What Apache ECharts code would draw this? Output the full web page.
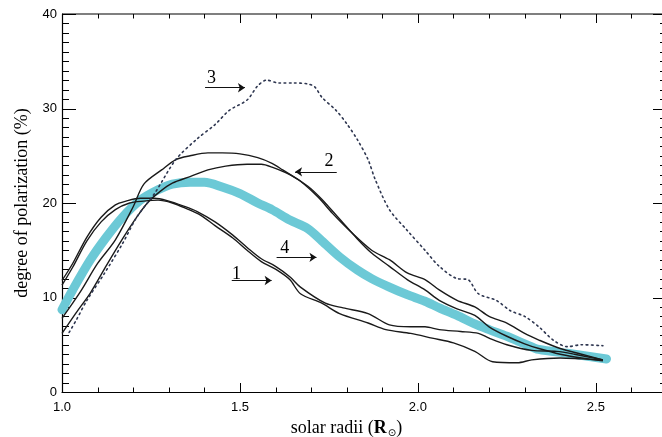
<!DOCTYPE html>
<html><head><meta charset="utf-8">
<script src="https://cdn.jsdelivr.net/npm/echarts@6/dist/echarts.min.js"></script>
<style>html,body{margin:0;padding:0;background:#fff}#c{width:662px;height:437px}</style>
</head><body><div id="c"></div><script>
// ---- data ----
const curve1aX = [1.0,1.03,1.07,1.11,1.15,1.18,1.22,1.26,1.30,1.34,1.38,1.43,1.48,1.52,1.56,1.60,1.64,1.67,1.74,1.79,1.86,1.92,1.98,2.02,2.06,2.12,2.17,2.20,2.25,2.32,2.39,2.44,2.52];
const curve1aY = [11.8,13.6,16.4,18.5,19.8,20.2,20.5,20.5,20.2,19.7,19.1,18.0,16.6,15.3,14.1,13.3,12.2,11.1,9.4,8.9,8.3,7.1,6.9,6.9,6.6,6.4,6.2,5.7,5.0,4.4,4.3,4.0,3.4];
const curve1bX = [1.0,1.03,1.07,1.11,1.15,1.19,1.23,1.27,1.31,1.35,1.39,1.43,1.48,1.52,1.56,1.60,1.64,1.67,1.73,1.78,1.86,1.91,1.98,2.04,2.10,2.16,2.21,2.28,2.32,2.40,2.46,2.52];
const curve1bY = [11.3,13.2,16.0,18.0,19.3,20.0,20.2,20.3,20.0,19.4,18.7,17.6,16.3,15.0,13.8,13.0,11.9,10.4,9.4,8.3,7.3,6.6,6.2,5.7,5.2,4.3,3.2,3.1,3.4,3.6,3.5,3.4];
const curve2aX = [1.0,1.03,1.055,1.10,1.15,1.20,1.23,1.28,1.32,1.36,1.41,1.45,1.50,1.55,1.59,1.62,1.67,1.72,1.76,1.81,1.87,1.92,1.97,2.02,2.06,2.11,2.16,2.20,2.25,2.30,2.34,2.40,2.46,2.52];
const curve2aY = [7.8,9.4,10.8,13.6,16.1,19.6,22.0,23.5,24.6,25.0,25.3,25.3,25.2,24.8,24.2,23.5,22.3,20.6,18.9,17.0,15.0,14.0,12.6,11.9,10.8,9.7,9.0,8.0,7.3,6.2,5.5,4.6,4.0,3.4];
const curve2bX = [1.0,1.04,1.08,1.125,1.17,1.21,1.24,1.275,1.31,1.36,1.41,1.46,1.52,1.56,1.59,1.64,1.69,1.73,1.78,1.83,1.87,1.92,1.97,2.02,2.06,2.11,2.16,2.20,2.25,2.30,2.34,2.40,2.46,2.52];
const curve2bY = [6.2,8.4,10.5,13.4,16.2,18.5,20.0,21.2,22.1,22.8,23.5,23.9,24.1,24.1,23.8,23.0,21.8,20.4,18.3,16.2,14.7,13.3,11.9,10.8,9.7,8.8,8.1,6.9,5.9,5.1,4.6,4.0,3.6,3.3];
const curve3X = [1.02,1.04,1.07,1.12,1.17,1.21,1.26,1.32,1.38,1.43,1.47,1.52,1.55,1.575,1.61,1.65,1.69,1.71,1.73,1.77,1.80,1.83,1.86,1.88,1.92,1.97,2.02,2.06,2.11,2.14,2.17,2.22,2.26,2.30,2.34,2.38,2.42,2.46,2.52];
const curve3Y = [6.3,7.6,9.7,12.6,15.7,18.5,21.0,24.6,26.8,28.3,29.8,30.9,32.4,33.0,32.7,32.7,32.6,32.3,31.2,29.8,28.4,26.7,24.6,22.5,19.3,17.1,15.0,13.3,12.0,11.9,10.4,9.7,8.6,8.0,6.9,5.5,4.8,5.0,4.9];
const curve4X = [1.0,1.03,1.08,1.125,1.17,1.22,1.27,1.31,1.36,1.40,1.45,1.50,1.55,1.59,1.64,1.69,1.73,1.78,1.83,1.87,1.92,1.97,2.02,2.06,2.11,2.16,2.20,2.25,2.30,2.34,2.42,2.53];
const curve4Y = [8.7,10.8,14.0,16.4,18.5,20.3,21.4,22.0,22.2,22.2,21.7,21.0,20.0,19.3,18.2,17.3,16.0,14.3,12.9,12.0,11.1,10.3,9.6,8.9,8.1,7.2,6.6,5.9,5.1,4.5,4.1,3.5];

// annotation labels and arrows (data units)
const labelTexts = ['1','2','3','4'];
const labelX = [1.49, 1.75, 1.42, 1.626];
const labelY = [12.5, 24.4, 33.2, 15.2];
const arrowFromX = [1.477, 1.772, 1.402, 1.603];
const arrowToX = [1.589, 1.655, 1.514, 1.715];
const arrowY = [11.8, 23.3, 32.2, 14.25];

// axis ranges and tick values (the frame's right edge, x = 2.7, lies just past the picture)
const xMin = 1.0, xMax = 2.7, xMajor = 0.5;
const yMin = 0, yMax = 40, yMajor = 10;
const xTickValues = [1.0,1.1,1.2,1.3,1.4,1.5,1.6,1.7,1.8,1.9,2.0,2.1,2.2,2.3,2.4,2.5,2.6];
const yTickValues = [0,1,2,3,4,5,6,7,8,9,10,11,12,13,14,15,16,17,18,19,20,21,22,23,24,25,26,27,28,29,30,31,32,33,34,35,36,37,38,39,40];

const zip = (xs, ys) => xs.map((x, i) => [x, ys[i]]);
const isMult = (v, m) => Math.abs(v / m - Math.round(v / m)) < 1e-6;
const BLACK = '#1a1a1a';
const SANS = 'Liberation Sans';
const SERIF = 'Liberation Serif';

function solid(name, xs, ys) {
  return {name, type: 'line', data: zip(xs, ys), showSymbol: false, smooth: 0.3,
    lineStyle: {color: BLACK, width: 1.4}, z: 3, silent: true};
}

const series = [
  {name: '4', type: 'line', data: zip(curve4X, curve4Y), showSymbol: false, smooth: 0.3,
    lineStyle: {color: '#6cc9d6', width: 9, cap: 'round'}, z: 2, silent: true},
  solid('1a', curve1aX, curve1aY),
  solid('1b', curve1bX, curve1bY),
  solid('2a', curve2aX, curve2aY),
  solid('2b', curve2bX, curve2bY),
  {name: '3', type: 'line', data: zip(curve3X, curve3Y), showSymbol: false, smooth: 0.3,
    lineStyle: {color: '#2e3650', width: 1.6, type: [1.6, 3.6], cap: 'round'}, z: 3, silent: true},
  {name: 'labels', type: 'scatter', data: labelX.map((x, i) => [x, labelY[i]]),
    symbolSize: 2, itemStyle: {color: 'rgba(0,0,0,0)'}, silent: true, z: 5,
    label: {show: true, position: 'inside', formatter: p => labelTexts[p.dataIndex],
      fontFamily: SERIF, fontSize: 18, color: '#000', textBorderWidth: 0, opacity: 1},
    markLine: {silent: true, symbol: ['none', 'arrow'], symbolSize: 7, animation: false,
      label: {show: false},
      lineStyle: {color: '#111', width: 1.2, type: 'solid'},
      data: arrowFromX.map((x, i) => [{coord: [x, arrowY[i]]}, {coord: [arrowToX[i], arrowY[i]]}])}
  }
];

const chart = echarts.init(document.getElementById('c'));
chart.setOption({
  animation: false,
  grid: {left: 62, top: 14, width: 605, height: 378, outerBoundsMode: 'none'},
  xAxis: {
    type: 'value', min: xMin, max: xMax, interval: xMajor,
    axisLine: {show: true, onZero: false, lineStyle: {color: '#000', width: 1.2}},
    axisTick: {show: false}, splitLine: {show: false},
    axisLabel: {show: true, margin: 9, color: '#000', fontFamily: SANS, fontSize: 13,
      formatter: v => (isMult(v, xMajor) ? v.toFixed(1) : '')},
    name: 'solar radii ({b|R}{s|⊙})', nameLocation: 'middle', nameGap: 24,
    nameTextStyle: {fontFamily: SERIF, fontSize: 18, color: '#000', padding: [0, 36, 0, 0],
      rich: {b: {fontFamily: SERIF, fontSize: 18, fontWeight: 'bold', color: '#000'},
             s: {fontFamily: 'DejaVu Sans', fontSize: 10, color: '#000', verticalAlign: 'bottom', padding: [12, 0, 0, 1]}}}
  },
  yAxis: {
    type: 'value', min: yMin, max: yMax, interval: yMajor,
    axisLine: {show: true, onZero: false, lineStyle: {color: '#000', width: 1.2}},
    axisTick: {show: false}, splitLine: {show: false},
    axisLabel: {show: true, margin: 5, color: '#000', fontFamily: SANS, fontSize: 13},
    name: 'degree of polarization (%)', nameLocation: 'middle', nameGap: 29,
    nameTextStyle: {fontFamily: SERIF, fontSize: 18, color: '#000'}
  },
  series: series
});

// frame top line and all inward ticks, placed through the chart's own scales
const px = (x, y) => chart.convertToPixel({gridIndex: 0}, [x, y]);
const st = {stroke: '#000', lineWidth: 1};
const frame = [];
const tl = px(xMin, yMax), tr = px(xMax, yMax);
frame.push({type: 'line', shape: {x1: tl[0], y1: tl[1], x2: tr[0] + 10, y2: tr[1]}, style: {stroke: '#000', lineWidth: 1.2}, silent: true});
xTickValues.forEach(v => {
  const len = isMult(v, xMajor) ? 9 : 4.5;
  const b = px(v, yMin), t = px(v, yMax);
  const x = Math.round(b[0]) + 0.5;
  frame.push({type: 'line', shape: {x1: x, y1: b[1], x2: x, y2: b[1] - len}, style: st, silent: true});
  frame.push({type: 'line', shape: {x1: x, y1: t[1], x2: x, y2: t[1] + len}, style: st, silent: true});
});
yTickValues.forEach(v => {
  const len = isMult(v, yMajor) ? 14 : 7;
  const l = px(xMin, v), r = px(xMax, v);
  const y = Math.round(l[1]) + 0.5;
  frame.push({type: 'line', shape: {x1: l[0], y1: y, x2: l[0] + len, y2: y}, style: st, silent: true});
  frame.push({type: 'line', shape: {x1: r[0], y1: y, x2: r[0] - len, y2: y}, style: st, silent: true});
});
chart.setOption({graphic: frame});
</script></body></html>
